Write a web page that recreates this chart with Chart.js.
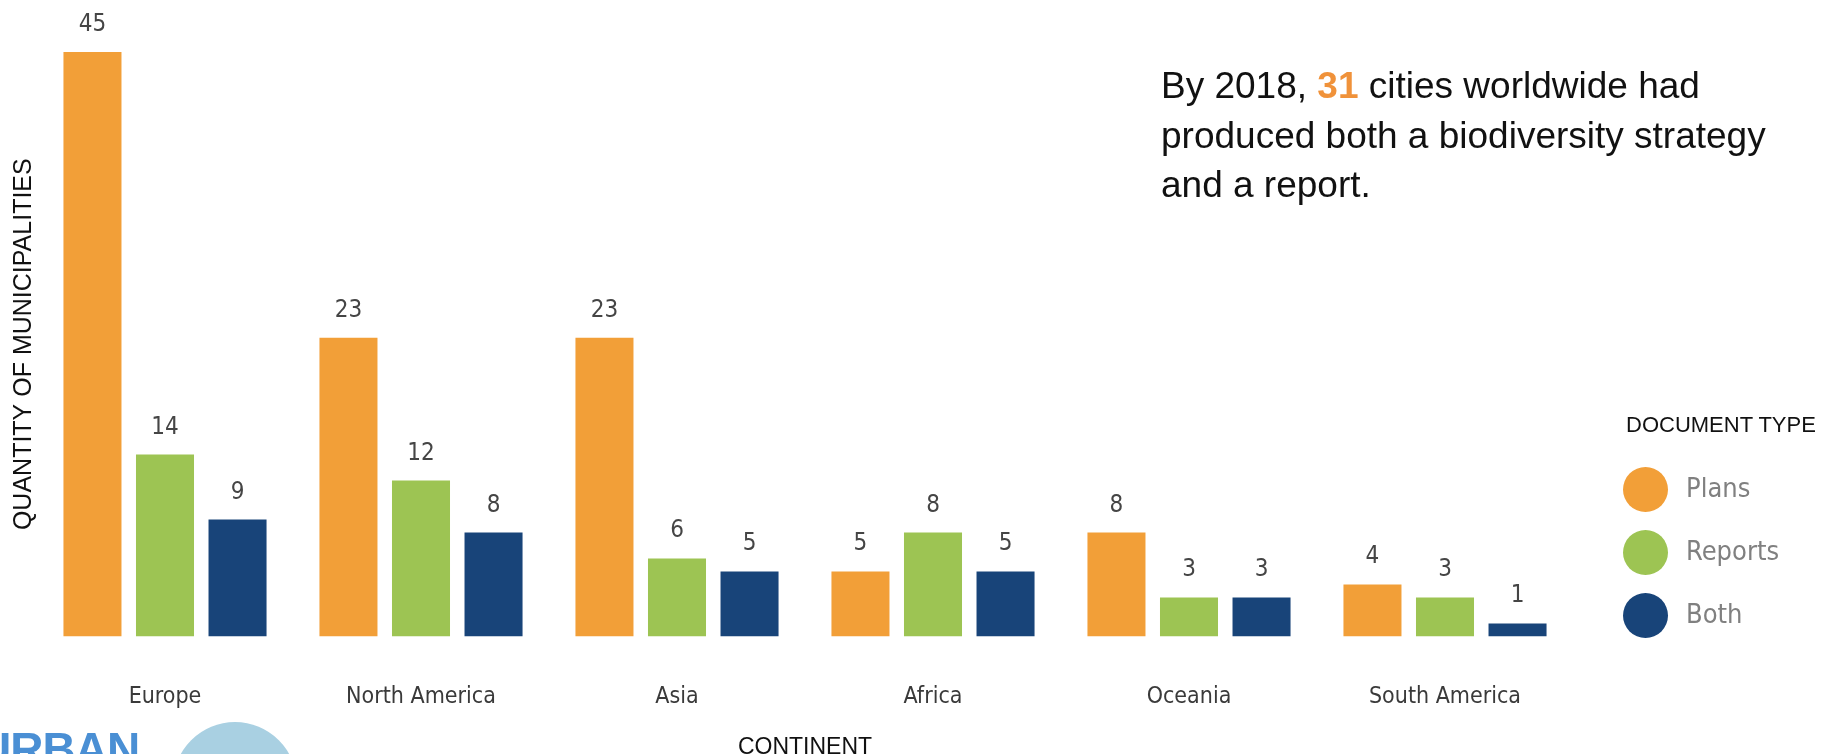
<!DOCTYPE html>
<html lang="en">
<head>
<meta charset="utf-8">
<title>Biodiversity documents by continent</title>
<script src="https://cdn.jsdelivr.net/npm/chart.js@4.4.0/dist/chart.umd.min.js"></script>
<style>
    html, body { margin: 0; padding: 0; background: #fff; overflow: hidden; }
    #wrap { position: relative; width: 1835px; height: 754px; overflow: hidden; }
    #grafico { position: absolute; left: 0; top: 0; }
    .nota {
        position: absolute; left: 1161px; top: 61px;
        font: 37px "Liberation Sans", Arial, sans-serif; line-height: 49.7px; color: #111;
        white-space: nowrap;
    }
    .nota b { color: #f0923a; }
    .legenda-titulo {
        position: absolute; left: 1626px; top: 414px;
        font: 22px "Liberation Sans", Arial, sans-serif; line-height: 22px; color: #111;
        white-space: nowrap;
    }
    .legenda-item {
        position: absolute; left: 1623px; height: 45px;
        display: flex; align-items: center;
    }
    .legenda-item span.bola { width: 45px; height: 45px; border-radius: 50%; display: inline-block; }
    .legenda-item span.txt {
        margin-left: 18px; margin-top: -4px; color: #808080;
        font: 27px "Liberation Sans Narrow", "DejaVu Sans Condensed", sans-serif;
    }
    .logo-txt {
        position: absolute; left: -22px; top: 722px;
        font: bold 46px "Liberation Sans", Arial, sans-serif; color: #4a8fd4; letter-spacing: -1px;
    }
    .logo-globo {
        position: absolute; left: 173px; top: 722px; width: 124px; height: 124px;
        border-radius: 50%; background: #a9d0e2;
    }
</style>
</head>
<body>
<div id="wrap">
    <canvas id="grafico" width="1835" height="754"></canvas>
    <div class="nota">By 2018, <b>31</b> cities worldwide had<br>produced both a biodiversity strategy<br>and a report.</div>
    <div class="legenda-titulo">DOCUMENT TYPE</div>
    <div id="legenda"></div>
    <div class="logo-globo"></div>
    <div class="logo-txt">URBAN</div>
</div>
<script>
// Dados
const continentes = ['Europe', 'North America', 'Asia', 'Africa', 'Oceania', 'South America'];
const planos = [45, 23, 23, 5, 8, 4];
const relatorios = [14, 12, 6, 8, 3, 3];
const ambos = [9, 8, 5, 5, 3, 1];
const series = ['Plans', 'Reports', 'Both'];
const cores = ['#f29f38', '#9dc453', '#184479'];

const fonteEstreita = '"Liberation Sans Narrow", "DejaVu Sans Condensed", sans-serif';

// Rótulos de valor acima de cada barra
const rotulosValor = {
    id: 'rotulosValor',
    afterDatasetsDraw(chart) {
        const ctx = chart.ctx;
        ctx.save();
        ctx.font = '24px ' + fonteEstreita;
        ctx.fillStyle = '#454545';
        ctx.textAlign = 'center';
        ctx.textBaseline = 'alphabetic';
        chart.data.datasets.forEach((ds, i) => {
            chart.getDatasetMeta(i).data.forEach((barra, j) => {
                ctx.fillText(ds.data[j], barra.x, barra.y - 21);
            });
        });
        ctx.restore();
    }
};

const ctx = document.getElementById('grafico').getContext('2d');
new Chart(ctx, {
    type: 'bar',
    data: {
        labels: continentes,
        datasets: [
            { label: series[0], data: planos, backgroundColor: cores[0] },
            { label: series[1], data: relatorios, backgroundColor: cores[1] },
            { label: series[2], data: ambos, backgroundColor: cores[2] }
        ]
    },
    options: {
        responsive: false,
        animation: false,
        devicePixelRatio: 1,
        categoryPercentage: 0.85,
        barPercentage: 0.8,
        layout: { padding: { left: 0, right: 262, top: 52, bottom: 0 } },
        plugins: {
            legend: { display: false },
            tooltip: { enabled: false }
        },
        scales: {
            x: {
                grid: { display: false, drawTicks: false },
                border: { display: false },
                ticks: {
                    padding: 47,
                    color: '#3a3a3a',
                    font: { family: fonteEstreita, size: 23, lineHeight: 1.2 }
                },
                title: {
                    display: true,
                    text: 'CONTINENT',
                    color: '#111',
                    padding: { top: -21.5, bottom: -5.5 },
                    font: { family: '"Liberation Sans", Arial, sans-serif', size: 23, lineHeight: 1 }
                }
            },
            y: {
                min: 0,
                max: 45,
                grid: { display: false, drawTicks: false },
                border: { display: false },
                ticks: { display: false },
                title: {
                    display: true,
                    text: 'QUANTITY OF MUNICIPALITIES',
                    color: '#111',
                    padding: { top: 12, bottom: 0 },
                    font: { family: '"Liberation Sans", Arial, sans-serif', size: 25, lineHeight: 1 }
                }
            }
        }
    },
    plugins: [rotulosValor]
});

// Legenda em HTML
const legenda = document.getElementById('legenda');
const topos = [467, 530, 592.5];
series.forEach((nome, i) => {
    const item = document.createElement('div');
    item.className = 'legenda-item';
    item.style.top = topos[i] + 'px';
    item.innerHTML = `<span class="bola" style="background:${cores[i]}"></span><span class="txt">${nome}</span>`;
    legenda.appendChild(item);
});
</script>
</body>
</html>
